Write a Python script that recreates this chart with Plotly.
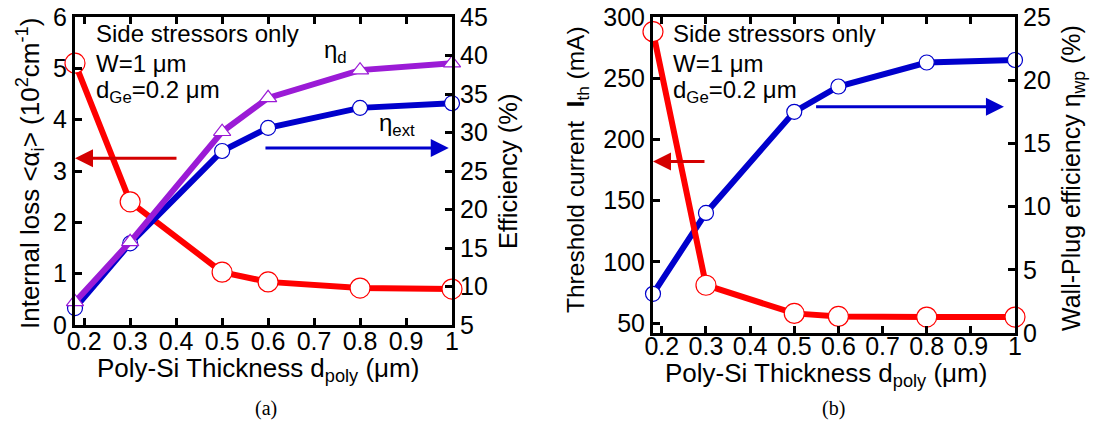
import plotly.graph_objects as go

W, H = 1100, 424
FONT = "Liberation Sans, Arial, sans-serif"
SERIF = "Liberation Serif, Times New Roman, serif"

# Poly-Si thickness d_poly (um)
thickness = [0.18, 0.3, 0.5, 0.6, 0.8, 1.0]

# (a) internal loss (10^2 cm^-1) and efficiencies (%)
internal_loss = [5.1, 2.4, 1.03, 0.84, 0.72, 0.70]
eta_ext = [7.2, 15.6, 27.6, 30.6, 33.2, 33.8]
eta_d = [8.0, 15.8, 30.1, 34.5, 38.1, 39.0]

# (b) threshold current (mA) and wall-plug efficiency (%)
threshold = [288, 81, 58, 55.5, 55, 55]
eta_wp = [3.1, 9.5, 17.5, 19.5, 21.4, 21.6]

x_tickvals = [0.2, 0.3, 0.4, 0.5, 0.6, 0.7, 0.8, 0.9, 1.0]
x_ticktext = ["0.2", "0.3", "0.4", "0.5", "0.6", "0.7", "0.8", "0.9", "1"]
loss_ticks = [0, 1, 2, 3, 4, 5, 6]
eff_ticks = [5, 10, 15, 20, 25, 30, 35, 40, 45]
ith_ticks = [50, 100, 150, 200, 250, 300]
wp_ticks = [0, 5, 10, 15, 20, 25]

RED = "#ff0000"
ARROW_RED = "#d40000"
BLUE = "#0000cc"
PURPLE = "#9b1bd6"


def px(x):
    return x / W


def py(y):
    return 1 - y / H


def series(x, y, color, xa, ya, symbol, size, name):
    return go.Scatter(
        x=x, y=y, xaxis=xa, yaxis=ya, name=name, mode="lines+markers",
        line=dict(color=color, width=6),
        marker=dict(symbol=symbol, size=size, color="white",
                    line=dict(color=color, width=1.2)),
        cliponaxis=False, showlegend=False,
    )


fig = go.Figure()
# panel (a)
fig.add_trace(series(thickness, internal_loss, RED, "x", "y", "circle", 20, "alpha_i"))
fig.add_trace(series(thickness, eta_ext, BLUE, "x", "y2", "circle", 15, "eta_ext"))
fig.add_trace(series(thickness, eta_d, PURPLE, "x", "y2", "triangle-up", 15, "eta_d"))
# panel (b)
fig.add_trace(series(thickness, eta_wp, BLUE, "x2", "y3", "circle", 15, "eta_wp"))
fig.add_trace(series(thickness, threshold, RED, "x2", "y4", "circle", 20, "I_th"))

tickfont = dict(family=FONT, size=25, color="black")
common = dict(showline=True, linecolor="black", linewidth=3, ticks="inside",
              ticklen=7, tickwidth=2.5, tickcolor="black", showgrid=False,
              zeroline=False, tickfont=tickfont, fixedrange=True, automargin=False)

dom_a = [py(325), py(17)]
dom_b = [py(333), py(17)]

fig.update_layout(
    width=W, height=H, margin=dict(l=0, r=0, t=0, b=0, autoexpand=False),
    paper_bgcolor="white", plot_bgcolor="white",
    xaxis=dict(domain=[px(75), px(452)], range=[0.18, 1.0], anchor="y",
               tickvals=x_tickvals, ticktext=x_ticktext, mirror="ticks",
               ticklabelstandoff=-8, **common),
    yaxis=dict(domain=dom_a, range=[0, 6], anchor="x", tickvals=loss_ticks, **common),
    yaxis2=dict(range=[5, 45], overlaying="y", side="right", anchor="x",
                tickvals=eff_ticks, **common),
    xaxis2=dict(domain=[px(653), px(1015)], range=[0.18, 1.0], anchor="y3",
                tickvals=x_tickvals, ticktext=x_ticktext, mirror="ticks",
                ticklabelstandoff=-11, **common),
    yaxis3=dict(domain=dom_b, range=[0, 25], side="right", anchor="x2",
                tickvals=wp_ticks, **common),
    yaxis4=dict(range=[42, 300], overlaying="y3", side="left", anchor="x2",
                tickvals=ith_ticks, **common),
)


def font(size):
    return dict(family=FONT, size=size, color="black")


annotations = []


def label(text, x, y, xanchor="left", yanchor="middle", angle=0, f=None):
    annotations.append(dict(text=text, x=px(x), y=py(y), xref="paper", yref="paper",
                            xanchor=xanchor, yanchor=yanchor, textangle=angle,
                            showarrow=False, font=f or font(24)))


# axis titles
label("Internal loss &lt;α<sub>i</sub>&gt; (10<sup>2</sup>cm<sup>-1</sup>)", 30, 174,
      xanchor="center", angle=-90, f=font(26))
label("Efficiency (%)", 508, 172, xanchor="center", angle=-90, f=font(25.5))
label("Threshold current  <b>I</b><sub>th</sub> (mA)", 577, 170, xanchor="center",
      angle=-90, f=font(24.5))
label("Wall-Plug efficiency η<sub>wp</sub> (%)", 1073, 178, xanchor="center", angle=-90,
      f=font(25))
label("Poly-Si Thickness d<sub>poly</sub> (μm)", 258, 369, xanchor="center", f=font(26))
label("Poly-Si Thickness d<sub>poly</sub> (μm)", 826, 374, xanchor="center", f=font(26))

# conditions
for x0 in (94, 671):
    label("Side stressors only", x0, 33)
    label("W=1 μm", x0, 63)
    label("d<sub>Ge</sub>=0.2 μm", x0, 91)

label("η<sub>d</sub>", 322, 52)
label("η<sub>ext</sub>", 377, 125)

cap = dict(family=SERIF, size=20, color="black")
label("(a)", 266, 408, xanchor="center", f=cap)
label("(b)", 833, 408, xanchor="center", f=cap)


def arrow(x, y, ax, xref, yref, color):
    annotations.append(dict(text="", x=x, y=y, ax=ax, ay=y, xref=xref, yref=yref,
                            axref=xref, ayref=yref, showarrow=True, arrowhead=2,
                            arrowsize=1.2, arrowwidth=3, arrowcolor=color))


arrow(0.18, 3.25, 0.404, "x", "y", ARROW_RED)
arrow(0.993, 28.0, 0.591, "x", "y2", BLUE)
arrow(0.18, 182, 0.30, "x2", "y4", ARROW_RED)
arrow(0.975, 17.9, 0.546, "x2", "y3", BLUE)

fig.update_layout(annotations=annotations)
fig.write_html("out.html")
